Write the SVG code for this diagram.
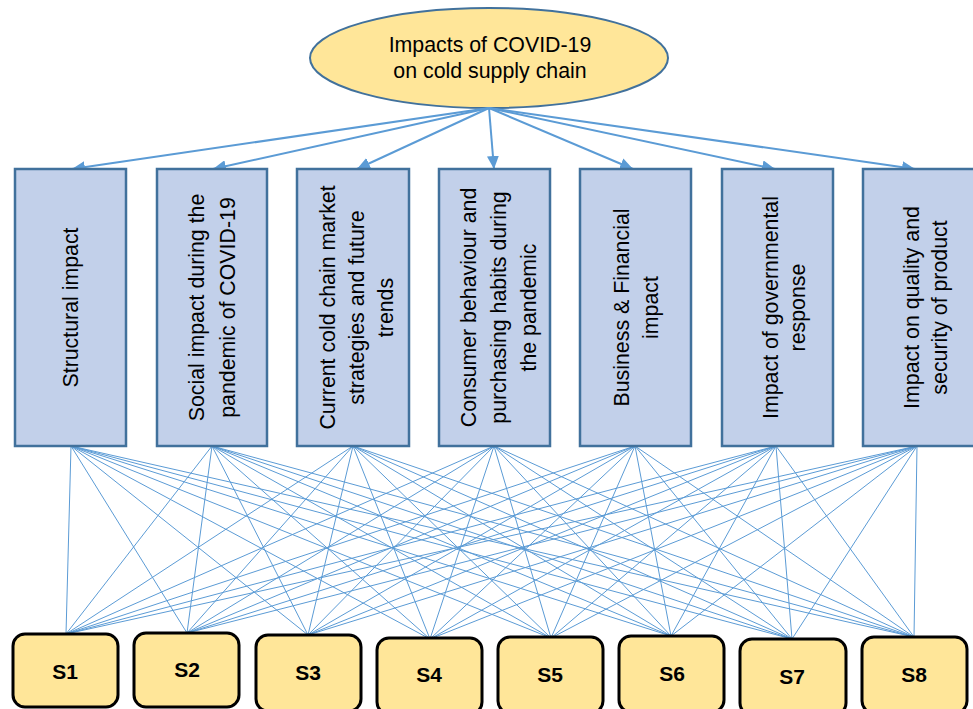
<svg xmlns="http://www.w3.org/2000/svg" width="973" height="709" viewBox="0 0 973 709">
<style>
.t{font-family:"Liberation Sans",Arial,sans-serif;font-size:21.33px;fill:#000}
.sl{font-family:"Liberation Sans",Arial,sans-serif;font-size:21px;font-weight:bold;fill:#000;text-anchor:middle}
.box{fill:#C2D0EA;stroke:#41719C;stroke-width:2.5}
.sb{fill:#FFE699;stroke:#000;stroke-width:3}
.arr{stroke:#5B9BD5;stroke-width:2;fill:none;marker-end:url(#ah)}
.cn line{stroke:#5B9BD5;stroke-width:1}
</style>
<defs>
<marker id="ah" markerUnits="userSpaceOnUse" markerWidth="14" markerHeight="12" refX="13" refY="6" orient="auto">
<path d="M0,0L13,6L0,12z" fill="#5B9BD5"/>
</marker>
</defs>
<rect width="973" height="709" fill="#fff"/>

<g id="root">
<ellipse cx="489" cy="58" rx="179" ry="50" fill="#FFE699" stroke="#41719C" stroke-width="2"/>
<text class="t" text-anchor="middle" x="490" y="52">Impacts of COVID-19</text>
<text class="t" text-anchor="middle" x="490" y="78">on cold supply chain</text>
</g>

<g id="arrows">
<line class="arr" x1="489" y1="108" x2="72" y2="169"/>
<line class="arr" x1="489" y1="108" x2="213" y2="169"/>
<line class="arr" x1="489" y1="108" x2="357" y2="169"/>
<line class="arr" x1="489" y1="108" x2="494" y2="169"/>
<line class="arr" x1="489" y1="108" x2="633" y2="169"/>
<line class="arr" x1="489" y1="108" x2="775" y2="169"/>
<line class="arr" x1="489" y1="108" x2="915" y2="169"/>
</g>

<g id="connectors" class="cn">
<line x1="71" y1="446" x2="66" y2="634"/><line x1="71" y1="446" x2="187" y2="633"/><line x1="71" y1="446" x2="308" y2="635"/><line x1="71" y1="446" x2="430" y2="639"/><line x1="71" y1="446" x2="551" y2="638"/><line x1="71" y1="446" x2="671" y2="636"/><line x1="71" y1="446" x2="792" y2="639"/><line x1="71" y1="446" x2="914" y2="637"/>
<line x1="212" y1="446" x2="66" y2="634"/><line x1="212" y1="446" x2="187" y2="633"/><line x1="212" y1="446" x2="308" y2="635"/><line x1="212" y1="446" x2="430" y2="639"/><line x1="212" y1="446" x2="551" y2="638"/><line x1="212" y1="446" x2="671" y2="636"/><line x1="212" y1="446" x2="792" y2="639"/><line x1="212" y1="446" x2="914" y2="637"/>
<line x1="353" y1="446" x2="66" y2="634"/><line x1="353" y1="446" x2="187" y2="633"/><line x1="353" y1="446" x2="308" y2="635"/><line x1="353" y1="446" x2="430" y2="639"/><line x1="353" y1="446" x2="551" y2="638"/><line x1="353" y1="446" x2="671" y2="636"/><line x1="353" y1="446" x2="792" y2="639"/><line x1="353" y1="446" x2="914" y2="637"/>
<line x1="494" y1="446" x2="66" y2="634"/><line x1="494" y1="446" x2="187" y2="633"/><line x1="494" y1="446" x2="308" y2="635"/><line x1="494" y1="446" x2="430" y2="639"/><line x1="494" y1="446" x2="551" y2="638"/><line x1="494" y1="446" x2="671" y2="636"/><line x1="494" y1="446" x2="792" y2="639"/><line x1="494" y1="446" x2="914" y2="637"/>
<line x1="635" y1="446" x2="66" y2="634"/><line x1="635" y1="446" x2="187" y2="633"/><line x1="635" y1="446" x2="308" y2="635"/><line x1="635" y1="446" x2="430" y2="639"/><line x1="635" y1="446" x2="551" y2="638"/><line x1="635" y1="446" x2="671" y2="636"/><line x1="635" y1="446" x2="792" y2="639"/><line x1="635" y1="446" x2="914" y2="637"/>
<line x1="776" y1="446" x2="66" y2="634"/><line x1="776" y1="446" x2="187" y2="633"/><line x1="776" y1="446" x2="308" y2="635"/><line x1="776" y1="446" x2="430" y2="639"/><line x1="776" y1="446" x2="551" y2="638"/><line x1="776" y1="446" x2="671" y2="636"/><line x1="776" y1="446" x2="792" y2="639"/><line x1="776" y1="446" x2="914" y2="637"/>
<line x1="917" y1="446" x2="66" y2="634"/><line x1="917" y1="446" x2="187" y2="633"/><line x1="917" y1="446" x2="308" y2="635"/><line x1="917" y1="446" x2="430" y2="639"/><line x1="917" y1="446" x2="551" y2="638"/><line x1="917" y1="446" x2="671" y2="636"/><line x1="917" y1="446" x2="792" y2="639"/><line x1="917" y1="446" x2="914" y2="637"/>
</g>

<g id="c1">
<rect class="box" x="15" y="169" width="111" height="277"/>
<text class="t" text-anchor="middle" transform="translate(71,307.5) rotate(-90)" x="0" y="6.5">Structural impact</text>
</g>
<g id="c2">
<rect class="box" x="157" y="169" width="110" height="277"/>
<text class="t" text-anchor="middle" transform="translate(212,307.5) rotate(-90)"><tspan x="0" y="-8">Social impact during the</tspan><tspan x="0" y="22.5">pandemic of COVID-19</tspan></text>
</g>
<g id="c3">
<rect class="box" x="297" y="169" width="112" height="277"/>
<text class="t" text-anchor="middle" transform="translate(353,307.5) rotate(-90)"><tspan x="0" y="-18.5">Current cold chain market</tspan><tspan x="0" y="10.5">strategies and future</tspan><tspan x="0" y="40">trends</tspan></text>
</g>
<g id="c4">
<rect class="box" x="439" y="169" width="111" height="277"/>
<text class="t" text-anchor="middle" transform="translate(494.5,307.5) rotate(-90)"><tspan x="0" y="-19">Consumer behaviour and</tspan><tspan x="0" y="11">purchasing habits during</tspan><tspan x="0" y="41">the pandemic</tspan></text>
</g>
<g id="c5">
<rect class="box" x="580" y="169" width="111" height="277"/>
<text class="t" text-anchor="middle" transform="translate(635.5,307.5) rotate(-90)"><tspan x="0" y="-7">Business &amp; Financial</tspan><tspan x="0" y="22">impact</tspan></text>
</g>
<g id="c6">
<rect class="box" x="722" y="169" width="111" height="277"/>
<text class="t" text-anchor="middle" transform="translate(777.5,307.5) rotate(-90)"><tspan x="0" y="0">Impact of governmental</tspan><tspan x="0" y="27.5">response</tspan></text>
</g>
<g id="c7">
<rect class="box" x="863" y="169" width="113" height="277"/>
<text class="t" text-anchor="middle" transform="translate(918.5,307.5) rotate(-90)"><tspan x="0" y="0">Impact on quality and</tspan><tspan x="0" y="28.5">security of product</tspan></text>
</g>

<g id="s1"><rect class="sb" x="13" y="634" width="105" height="73" rx="12"/><text class="sl" x="65" y="679">S1</text></g>
<g id="s2"><rect class="sb" x="134" y="633" width="105" height="74" rx="12"/><text class="sl" x="187" y="677">S2</text></g>
<g id="s3"><rect class="sb" x="256" y="635" width="105" height="76" rx="12"/><text class="sl" x="308" y="680">S3</text></g>
<g id="s4"><rect class="sb" x="377" y="638" width="105" height="76" rx="12"/><text class="sl" x="429" y="682">S4</text></g>
<g id="s5"><rect class="sb" x="498" y="637" width="105" height="76" rx="12"/><text class="sl" x="550" y="682">S5</text></g>
<g id="s6"><rect class="sb" x="619" y="636" width="105" height="76" rx="12"/><text class="sl" x="672" y="681">S6</text></g>
<g id="s7"><rect class="sb" x="740" y="639" width="106" height="76" rx="12"/><text class="sl" x="792" y="684">S7</text></g>
<g id="s8"><rect class="sb" x="862" y="637" width="105" height="76" rx="12"/><text class="sl" x="914" y="682">S8</text></g>
</svg>
